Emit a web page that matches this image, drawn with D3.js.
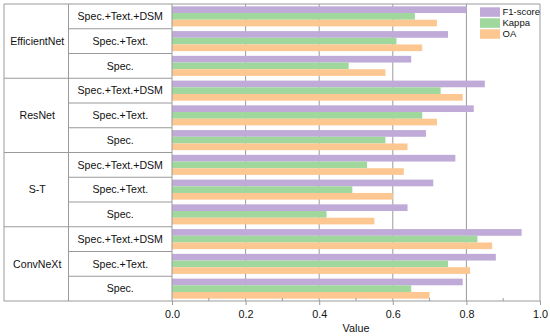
<!DOCTYPE html>
<html>
<head>
<meta charset="utf-8">
<script src="https://cdn.jsdelivr.net/npm/d3@7/dist/d3.min.js"></script>
<style>
  html, body { margin: 0; padding: 0; background: #fff; }
  svg { display: block; font-family: "Liberation Sans", Arial, sans-serif; }
</style>
</head>
<body>
<svg id="chart" width="550" height="336"></svg>
<script>
// ---- data ----
const models = ["EfficientNet", "ResNet", "S-T", "ConvNeXt"];
const inputs = ["Spec.+Text.+DSM", "Spec.+Text.", "Spec."];
const seriesNames = ["F1-score", "Kappa", "OA"];
// values per row, in order: model x input
const f1Score = [0.80, 0.75, 0.65, 0.85, 0.82, 0.69, 0.77, 0.71, 0.64, 0.95, 0.88, 0.79];
const kappa   = [0.66, 0.61, 0.48, 0.73, 0.68, 0.58, 0.53, 0.49, 0.42, 0.83, 0.75, 0.65];
const oa      = [0.72, 0.68, 0.58, 0.79, 0.72, 0.64, 0.63, 0.60, 0.55, 0.87, 0.81, 0.70];
const xTicks = [0.0, 0.2, 0.4, 0.6, 0.8, 1.0];
const xMinorTicks = [0.1, 0.3, 0.5, 0.7, 0.9];
const axisTitle = "Value";

(function () {
const colors = ["#bfaad8", "#9fd79c", "#fdc792"];
const lineColor = "#9a9a9a";

// ---- layout ----
const svg = d3.select("#chart");
const left = 4, mid = 68.5, plotL = 172, plotR = 540, topY = 4, bottomY = 301;

const rows = [];
models.forEach((m, mi) => inputs.forEach((inp, ii) => rows.push({ model: m, input: inp, idx: mi * 3 + ii })));
const rowKeys = rows.map(r => r.model + "|" + r.input);

const x = d3.scaleLinear().domain([0, 1]).range([plotL, plotR]);
const y = d3.scaleBand().domain(rowKeys).range([topY, bottomY]).paddingInner(0.19).paddingOuter(0.095);
const yRow = d3.scaleBand().domain(rowKeys).range([topY, bottomY]).padding(0);
const ySub = d3.scaleBand().domain(seriesNames).range([0, y.bandwidth()]);
const seriesData = [f1Score, kappa, oa];

// gridlines
svg.append("g").selectAll("line").data(xTicks.filter(t => t > 0 && t < 1)).join("line")
  .attr("x1", d => x(d)).attr("x2", d => x(d)).attr("y1", topY).attr("y2", bottomY)
  .attr("stroke", lineColor).attr("stroke-width", 1);

// bars
const g = svg.append("g");
rows.forEach(r => {
  const key = r.model + "|" + r.input;
  seriesNames.forEach((s, si) => {
    g.append("rect")
      .attr("x", x(0))
      .attr("y", y(key) + ySub(s))
      .attr("width", x(seriesData[si][r.idx]) - x(0))
      .attr("height", ySub.bandwidth())
      .attr("fill", colors[si]);
  });
});

// frame
const frame = svg.append("g").attr("stroke", lineColor).attr("stroke-width", 1).attr("fill", "none");
frame.append("line").attr("x1", left).attr("x2", plotR).attr("y1", topY).attr("y2", topY);
frame.append("line").attr("x1", left).attr("x2", plotR).attr("y1", bottomY).attr("y2", bottomY);
frame.append("line").attr("x1", left).attr("x2", left).attr("y1", topY).attr("y2", bottomY);
frame.append("line").attr("x1", mid).attr("x2", mid).attr("y1", topY).attr("y2", bottomY);
frame.append("line").attr("x1", plotL).attr("x2", plotL).attr("y1", topY).attr("y2", bottomY);
frame.append("line").attr("x1", plotR).attr("x2", plotR).attr("y1", topY).attr("y2", bottomY);

// table row separators
rows.forEach((r, i) => {
  if (i === 0) return;
  const key = r.model + "|" + r.input;
  const yy = yRow(key);
  const isGroup = i % 3 === 0;
  frame.append("line").attr("x1", isGroup ? left : mid).attr("x2", plotL).attr("y1", yy).attr("y2", yy);
});

// table labels
rows.forEach(r => {
  const key = r.model + "|" + r.input;
  svg.append("text").attr("x", (mid + plotL) / 2).attr("y", yRow(key) + yRow.bandwidth() / 2)
    .attr("dy", "0.35em").attr("text-anchor", "middle").attr("font-size", "10.6px").attr("fill", "#111")
    .text(r.input);
});
models.forEach((m, mi) => {
  const k0 = rowKeys[mi * 3], k2 = rowKeys[mi * 3 + 2];
  const cy = (yRow(k0) + yRow(k2) + yRow.bandwidth()) / 2;
  svg.append("text").attr("x", (left + mid) / 2 + 1).attr("y", cy).attr("dy", "0.35em")
    .attr("text-anchor", "middle").attr("font-size", "10.6px").attr("fill", "#111").text(m);
});

// x axis
const axis = d3.axisBottom(x).tickValues(xTicks).tickFormat(d3.format(".1f")).tickSize(4).tickPadding(5);
const ax = svg.append("g").attr("transform", `translate(0,${bottomY})`).call(axis);
ax.select(".domain").remove();
ax.selectAll(".tick line").attr("stroke", lineColor);
ax.selectAll(".tick text").attr("font-size", "10.8px").attr("fill", "#111")
  .attr("font-family", "Liberation Sans, Arial, sans-serif");
svg.append("g").selectAll("line").data(xMinorTicks).join("line")
  .attr("x1", d => x(d)).attr("x2", d => x(d)).attr("y1", bottomY).attr("y2", bottomY - 3)
  .attr("stroke", lineColor);

svg.append("text").attr("x", x(0.5)).attr("y", 331.5).attr("text-anchor", "middle")
  .attr("font-size", "10.8px").attr("fill", "#111").text(axisTitle);

// legend
const lg = svg.append("g");
seriesNames.forEach((s, i) => {
  lg.append("rect").attr("x", 480).attr("y", 7.3 + i * 11).attr("width", 20).attr("height", 9.5).attr("fill", colors[i]);
  lg.append("text").attr("x", 502.5).attr("y", 12 + i * 11).attr("dy", "0.35em")
    .attr("font-size", "9.5px").attr("fill", "#111").text(s);
});
})();
</script>
</body>
</html>
